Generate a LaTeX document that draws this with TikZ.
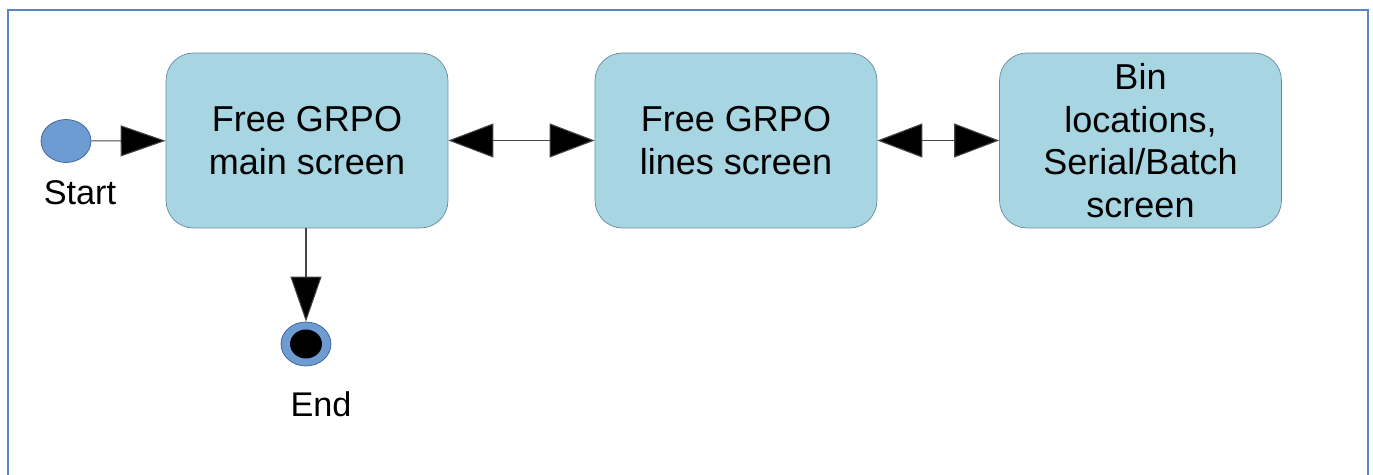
\documentclass[tikz,border=0pt]{standalone}
\usepackage{fontspec}
\setmainfont{Liberation Sans}
\usepackage{tikz}
\usetikzlibrary{positioning, calc, shapes.geometric, arrows.meta}
\definecolor{frameBlue}{RGB}{86,134,200}
\definecolor{boxFill}{RGB}{168,213,226}
\definecolor{boxEdge}{RGB}{104,138,164}
\definecolor{dotFill}{RGB}{110,155,210}
\definecolor{dotEdge}{RGB}{60,96,150}
\definecolor{lineGray}{RGB}{70,70,70}

\begin{document}
\begin{tikzpicture}[x=0.02cm, y=-0.02cm,
    screenbox/.style={draw=boxEdge, fill=boxFill, rounded corners=0.55cm,
      minimum width=5.64cm, minimum height=3.5cm, inner sep=0pt, align=center,
      font=\fontsize{20.5}{24.2}\selectfont},
    startdot/.style={ellipse, draw=dotEdge, fill=dotFill, minimum width=1cm,
      minimum height=0.86cm, inner sep=0pt},
    lbl/.style={anchor=base, font=\fontsize{19.5}{23}\selectfont},
    flow/.style={draw=lineGray, line width=0.6pt,
      -{Triangle[length=0.9cm, width=0.62cm, fill=black]}},
    twoway/.style={draw=lineGray, line width=0.6pt,
      {Triangle[length=0.9cm, width=0.68cm, fill=black]}-{Triangle[length=0.9cm, width=0.68cm, fill=black]}}]
  \useasboundingbox (0,0) rectangle (1373,475);
  % outer frame
  \draw[frameBlue, line width=1.2pt] (8,475) -- (8,10) -- (1368,10) -- (1368,475);

  % start / end
  \node[startdot] (start) at (66,141) {};
  \node[lbl] (startlbl) at (80,205) {Start};
  \node[startdot, minimum height=0.88cm] (end) at (306,344) {};
  \fill[black] (end.center) ellipse [x radius=0.32cm, y radius=0.29cm];
  \node[lbl] (endlbl) at (321,417) {End};

  % screens
  \node[screenbox] (mainscr) at (307,140.5) {Free GRPO\\main screen};
  \node[screenbox] (linescr) at (736,140.5) {Free GRPO\\lines screen};
  \node[screenbox] (binscr) at (1140.5,140.5) {Bin\\locations,\\Serial/Batch\\screen};

  % connectors
  \draw[flow] (start) -- (mainscr);
  \draw[twoway] (mainscr) -- (linescr);
  \draw[twoway] (linescr) -- (binscr);
  \draw[flow] (end |- mainscr.south) -- (end);
\end{tikzpicture}
\end{document}
